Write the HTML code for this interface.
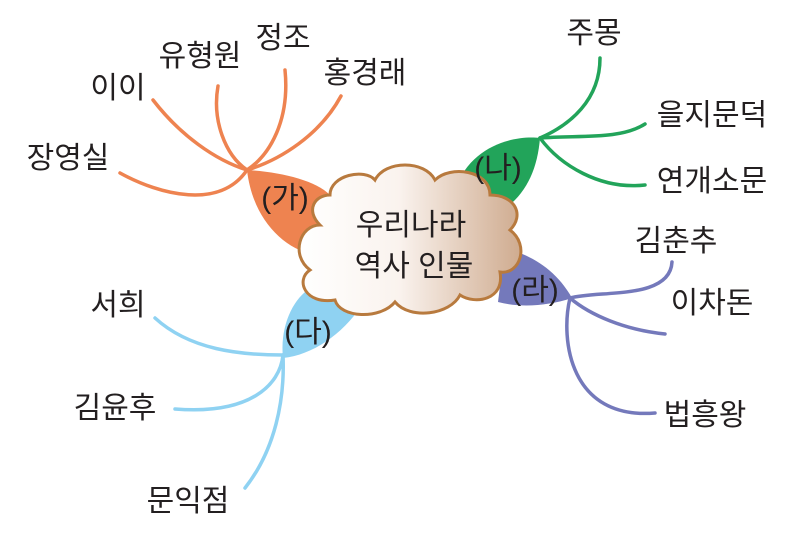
<!DOCTYPE html>
<html><head><meta charset="utf-8"><style>
html,body{margin:0;padding:0;background:#fff;width:800px;height:547px;overflow:hidden}
svg text{font-family:"Liberation Sans","Noto Sans CJK KR",sans-serif;fill:#231f20}
</style></head><body>
<svg width="800" height="547" viewBox="0 0 800 547" xmlns="http://www.w3.org/2000/svg">
<defs>
<linearGradient id="g" x1="0" x2="1" y1="0" y2="0">
<stop offset="0" stop-color="#fff"/><stop offset="0.45" stop-color="#faf3ee"/><stop offset="1" stop-color="#cfab8f"/>
</linearGradient>
</defs>
<path d="M247,170 C280,172 315,180 330,195 L315,255 C280,248 252,215 247,170 Z" fill="#ee8350"/>
<path d="M540,138 C515,135 470,145 455,190 L490,218 C522,202 537,175 540,138 Z" fill="#22a45a"/>
<path d="M572,298 C555,268 530,255 505,248 L498,302 C520,308 548,306 572,298 Z" fill="#7479bb"/>
<path d="M283,358 C280,330 290,305 305,292 L362,305 C342,335 312,355 283,358 Z" fill="#8fd2f2"/>
<g fill="none" stroke="#ee8350" stroke-width="3.5" stroke-linecap="round">
<path d="M120,173 C160,195 220,210 247,170"/>
<path d="M153,100 C180,135 215,160 247,170"/>
<path d="M218,86 C212,120 225,155 247,170"/>
<path d="M285,70 C290,120 270,155 247,170"/>
<path d="M341,96 C320,135 280,160 247,170"/>
</g>
<g fill="none" stroke="#22a45a" stroke-width="3.5" stroke-linecap="round">
<path d="M600,58 C600,100 570,125 540,138"/>
<path d="M645,124 C620,140 580,135 540,138"/>
<path d="M645,185 C600,190 560,165 540,138"/>
</g>
<g fill="none" stroke="#7479bb" stroke-width="3.5" stroke-linecap="round">
<path d="M672,262 C670,300 600,290 570,298"/>
<path d="M665,334 C625,330 590,315 570,298"/>
<path d="M655,413 C570,420 560,340 570,298"/>
</g>
<g fill="none" stroke="#8fd2f2" stroke-width="3.5" stroke-linecap="round">
<path d="M155,318 C190,350 240,355 283,355"/>
<path d="M175,409 C250,415 280,385 283,355"/>
<path d="M245,488 C275,450 285,400 283,355"/>
</g>
<path d="M330,195 C330,175 365,168 375,180 C385,160 425,160 435,180 C450,165 490,170 490,195 C515,195 525,215 510,230 C530,245 520,275 500,272 C505,300 475,305 460,295 C450,315 410,320 395,302 C380,320 340,318 335,300 C305,305 295,280 310,270 C290,255 300,225 320,225 C305,210 315,195 330,195 Z" fill="url(#g)" stroke="#b87a3e" stroke-width="3"/>
<g font-size="30" text-anchor="middle">
<text x="411" y="235">우리나라</text>
<text x="414" y="276">역사 인물</text>
<text x="285" y="208">(가)</text>
<text x="498" y="178">(나)</text>
<text x="308" y="342">(다)</text>
<text x="535" y="300">(라)</text>
<text x="68" y="168">장영실</text>
<text x="118" y="98">이이</text>
<text x="200" y="66">유형원</text>
<text x="283" y="48">정조</text>
<text x="365" y="83">홍경래</text>
<text x="594" y="43">주몽</text>
<text x="712" y="125">을지문덕</text>
<text x="712" y="191">연개소문</text>
<text x="676" y="251">김춘추</text>
<text x="712" y="313">이차돈</text>
<text x="705" y="425">법흥왕</text>
<text x="118" y="315">서희</text>
<text x="115" y="418">김윤후</text>
<text x="188" y="511">문익점</text>
</g>
</svg>
</body></html>
